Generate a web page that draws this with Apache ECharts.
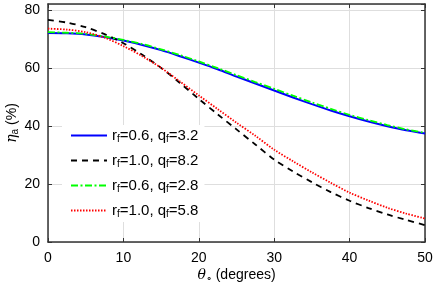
<!DOCTYPE html>
<html>
<head>
<meta charset="utf-8">
<script src="https://cdn.jsdelivr.net/npm/echarts@6/dist/echarts.min.js"></script>
<style>
  html, body { margin: 0; padding: 0; background: #fff; }
  #chart { width: 437px; height: 283px; }
</style>
</head>
<body>
<div id="chart"></div>
<script>
// theta_c (degrees)
const thetaVals = [0, 2.5, 5, 7.5, 10, 12.5, 15, 17.5, 20, 22.5, 25, 27.5, 30, 32.5, 35, 37.5, 40, 42.5, 45, 47.5, 50];

// eta_a (%)
const blueVals  = [72.0, 71.9, 71.5, 70.6, 69.4, 67.9, 66.1, 64.0, 61.8, 59.5, 57.0, 54.6, 52.2, 49.8, 47.5, 45.3, 43.3, 41.5, 39.9, 38.5, 37.4];
const blackVals = [76.5, 75.6, 74.0, 71.6, 68.5, 64.5, 60.0, 54.8, 49.3, 44.0, 38.8, 33.6, 28.4, 24.3, 20.6, 17.2, 14.2, 11.7, 9.5, 7.6, 5.8];
const greenVals = [72.3, 72.1, 71.7, 70.8, 69.6, 68.2, 66.4, 64.4, 62.2, 59.9, 57.5, 55.1, 52.8, 50.4, 48.1, 45.9, 43.8, 42.0, 40.3, 38.8, 37.6];
const redVals   = [73.5, 73.2, 72.3, 70.4, 67.5, 64.0, 60.0, 55.3, 50.5, 45.8, 41.1, 36.6, 31.8, 27.8, 24.0, 20.4, 17.0, 14.3, 11.8, 9.8, 8.1];

const legendNames = ['rf06qf32', 'rf10qf82', 'rf06qf28', 'rf10qf58'];
const legendLabels = {
    rf06qf32: ['0.6', '3.2'],
    rf10qf82: ['1.0', '8.2'],
    rf06qf28: ['0.6', '2.8'],
    rf10qf58: ['1.0', '5.8']
};

const xTicks = { min: 0, max: 50, interval: 10 };
const yTicks = { min: 0, max: 82, interval: 20 };

const FONT = '"Liberation Sans", Arial, sans-serif';
const AXIS_COLOR = '#333';
const GRID_COLOR = '#dedede';

function pairs(xs, ys) {
    return xs.map((x, i) => [x, ys[i]]);
}

function mkSeries(name, vals, color, type, width) {
    return {
        name: name,
        type: 'line',
        data: pairs(thetaVals, vals),
        smooth: 0.3,
        symbol: 'none',
        lineStyle: { color: color, width: width, type: type, cap: 'butt' },
        itemStyle: { color: color },
        z: 3
    };
}

const chart = echarts.init(document.getElementById('chart'), null, { renderer: 'canvas' });

const option = {
    backgroundColor: '#fff',
    animation: false,
    textStyle: { fontFamily: FONT },
    grid: { left: 48, right: 12, top: 4, bottom: 41, containLabel: false, outerBoundsMode: 'none' },
    legend: {
        data: legendNames,
        orient: 'vertical',
        left: 62,
        top: 125,
        itemWidth: 36,
        itemHeight: 14,
        itemGap: 9,
        padding: [3, 6, 3, 8],
        backgroundColor: '#fff',
        borderWidth: 0,
        z: 10,
        itemStyle: { color: 'rgba(0,0,0,0)', borderWidth: 0, opacity: 0 },
        formatter: function (name) {
            const l = legendLabels[name];
            return 'r{sub|f}=' + l[0] + ', q{sub|f}=' + l[1];
        },
        textStyle: {
            fontFamily: FONT,
            fontSize: 15,
            color: '#000',
            padding: [0, 0, 0, 0],
            rich: {
                sub: { fontSize: 10, fontFamily: FONT, color: '#000', verticalAlign: 'bottom', padding: [7, 0, 0, 0] }
            }
        }
    },
    xAxis: [
        {
            type: 'value',
            min: xTicks.min,
            max: xTicks.max,
            interval: xTicks.interval,
            name: '{it|θ}{sub|∘} (degrees)',
            nameLocation: 'middle',
            nameGap: 25,
            nameMoveOverlap: false,
            nameTextStyle: {
                fontFamily: FONT,
                fontSize: 14,
                color: '#000',
                rich: {
                    it: { fontFamily: '"DejaVu Serif", serif', fontStyle: 'italic', fontSize: 14, color: '#000' },
                    sub: { fontSize: 10, color: '#000', verticalAlign: 'bottom', padding: [6, 0, 0, 0] }
                }
            },
            axisLine: { show: true, onZero: false, lineStyle: { color: AXIS_COLOR, width: 1.5 } },
            axisTick: { show: true, inside: true, length: 4, lineStyle: { color: AXIS_COLOR } },
            axisLabel: { fontFamily: FONT, fontSize: 14, color: '#000', margin: 9 },
            splitLine: { show: true, lineStyle: { color: GRID_COLOR, width: 1 } }
        },
        {
            type: 'value',
            position: 'top',
            min: xTicks.min,
            max: xTicks.max,
            interval: xTicks.interval,
            axisLine: { show: true, onZero: false, lineStyle: { color: AXIS_COLOR, width: 1.5 } },
            axisTick: { show: true, inside: true, length: 4, lineStyle: { color: AXIS_COLOR } },
            axisLabel: { show: false },
            splitLine: { show: false }
        }
    ],
    yAxis: [
        {
            type: 'value',
            min: yTicks.min,
            max: yTicks.max,
            interval: yTicks.interval,
            name: '{it|η}{sub|a} (%)',
            nameLocation: 'middle',
            nameGap: 28,
            nameMoveOverlap: false,
            nameRotate: 90,
            nameTextStyle: {
                fontFamily: FONT,
                fontSize: 14,
                color: '#000',
                rich: {
                    it: { fontFamily: '"DejaVu Serif", serif', fontStyle: 'italic', fontSize: 14, color: '#000' },
                    sub: { fontSize: 10, color: '#000', verticalAlign: 'bottom', padding: [6, 0, 0, 0] }
                }
            },
            axisLine: { show: true, onZero: false, lineStyle: { color: AXIS_COLOR, width: 1.5 } },
            axisTick: { show: true, inside: true, length: 4, lineStyle: { color: AXIS_COLOR } },
            axisLabel: {
                fontFamily: FONT, fontSize: 14, color: '#000', margin: 8,
                showMaxLabel: false
            },
            splitLine: { show: true, lineStyle: { color: GRID_COLOR, width: 1 } }
        },
        {
            type: 'value',
            position: 'right',
            min: yTicks.min,
            max: yTicks.max,
            interval: yTicks.interval,
            axisLine: { show: true, onZero: false, lineStyle: { color: AXIS_COLOR, width: 1.5 } },
            axisTick: { show: true, inside: true, length: 4, lineStyle: { color: AXIS_COLOR } },
            axisLabel: { show: false },
            splitLine: { show: false }
        }
    ],
    series: [
        mkSeries(legendNames[0], blueVals, '#0000ff', 'solid', 2),
        mkSeries(legendNames[1], blackVals, '#000000', [6, 5], 1.8),
        mkSeries(legendNames[2], greenVals, '#00ff00', [7, 2.5, 2, 2.5], 1.8),
        mkSeries(legendNames[3], redVals, '#ff0000', [1.5, 1.5], 1.8)
    ]
};

chart.setOption(option);
</script>
</body>
</html>
